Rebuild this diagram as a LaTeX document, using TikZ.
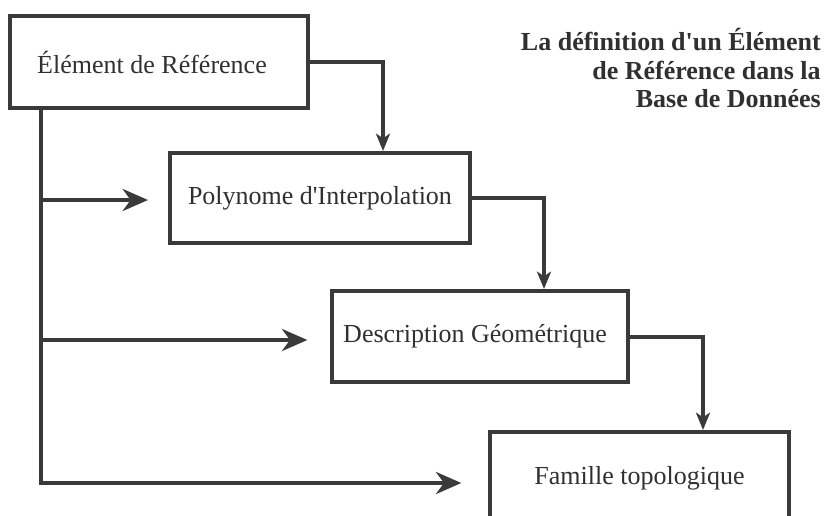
\documentclass[tikz,border=0pt]{standalone}
\usepackage{fontspec}
\newfontfamily\tnr{Liberation Serif}
\usetikzlibrary{arrows.meta}
\definecolor{ink}{RGB}{58,58,58}
\definecolor{inktext}{RGB}{48,48,48}
\begin{document}
\begin{tikzpicture}[x=0.75pt,y=-0.75pt,
  box/.style={draw=ink, line width=3pt, minimum height=69pt, inner sep=0pt,
    font=\tnr\fontsize{19.5}{22}\selectfont, text=inktext},
  feed/.style={draw=ink, line width=3pt, line join=miter,
    -{Stealth[length=19pt,width=16.5pt,inset=6pt]}},
  link/.style={draw=ink, line width=3pt, line join=miter,
    -{Stealth[length=13pt,width=10.5pt,inset=3.5pt]}},
  title/.style={anchor=base east, inner sep=0pt, text=inktext,
    font=\tnr\bfseries\fontsize{19.5}{22}\selectfont}]
\useasboundingbox (0,0) rectangle (832,515);
\clip (0,0) rectangle (832,515);
% boxes
\node[box, minimum width=223.5pt] (er) at (159,62) {Élément de Référence\hspace*{10.5pt}};
\node[box, minimum width=225pt, minimum height=67.5pt] (pi) at (320,198) {Polynome d'Interpolation};
\node[box, minimum width=222pt, minimum height=68.25pt] (dg) at (480,336.5) {Description Géométrique\hspace*{7.5pt}};
\node[box, minimum width=224.25pt] (ft) at (639.5,478) {Famille topologique};
% title
\node[title] (t1) at (821,50) {La définition d'un Élément};
\node[title] (t2) at (821,79) {de Référence dans la};
\node[title] (t3) at (821,107) {Base de Données};
% helper coordinates
\coordinate (k1) at (383,0);
\coordinate (k2) at (544,0);
\coordinate (k3) at (703,0);
\coordinate (a1) at (41,200);
\coordinate (a2) at (41,340);
\coordinate (a3) at (41,483);
% chain links
\draw[link] (er.east) -| (k1 |- pi.north);
\draw[link] (pi.east) -| (k2 |- dg.north);
\draw[link] (dg.east) -| (k3 |- ft.north);
% trunk and feeds
\draw[feed, shorten >=20pt] (a3 |- er.south) -- (a3) -- (a3 -| ft.west);
\draw[feed, shorten >=15pt] (a1) -- (a1 -| pi.west);
\draw[feed, shorten >=17pt] (a2) -- (a2 -| dg.west);
\end{tikzpicture}
\end{document}
